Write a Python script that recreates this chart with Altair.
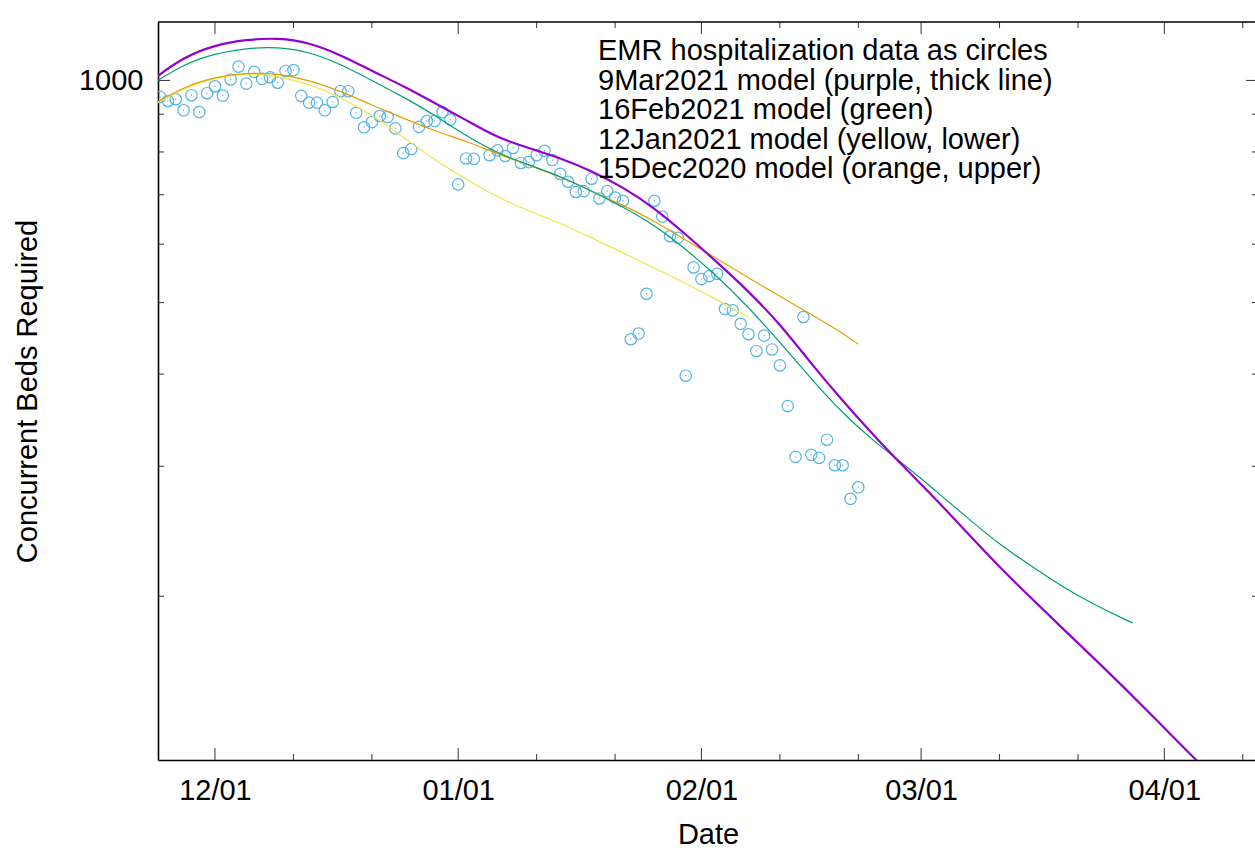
import altair as alt
import pandas as pd

ORIGIN = pd.Timestamp("2020-12-01")

# Daily EMR census of occupied beds, starting 2020-11-24 (None = no report)
obs_start = "2020-11-24"
obs_beds = [
    950, 938, 943, 911, 955, 906, 961, 982, 954, 1003,
    1044, 990, 1027, 1005, 1010, 993, 1030, 1033, 953, 933,
    933, 911, 935, 967, 967, 904, 864, 878, 895, 892,
    861, 797, 807, 865, 881, 881, 906, 885, 723, 784,
    783, None, 792, 804, 790, 810, 773, 775, 792, 803,
    780, 747, 729, 706, 708, 736, 692, 708, 694, 687,
    446, 454, 514, 687, 654, 615, 612, 398, 558, 538,
    543, 547, 490, 488, 468, 453, 430, 451, 432, 411,
    362, 309, 478, 311, 308, 326, 301, 301, 271, 281,
]

# Model projections, sampled every four days from 2020-11-23
model_start = "2020-11-23"
mar09_beds = [1001, 1076, 1117, 1136, 1142, 1126, 1083, 1030, 983, 932,
              884, 836, 810, 785, 754, 717, 672, 619, 567, 518,
              468, 413, 368, 330, 298, 270, 243, 219, 199, 181,
              165, 150, 136, 123, 112]
feb16_beds = [989, 1052, 1088, 1106, 1110, 1094, 1052, 1000, 950, 898,
              841, 797, 768, 742, 708, 674, 637, 591, 543, 493,
              442, 394, 354, 324, 301, 277, 255, 235, 220, 206,
              195, 186]
feb16_last = ("2021-03-28", 184)
jan12_beds = [923, 977, 1008, 1024, 1014, 989, 950, 898, 838, 780,
              735, 695, 665, 641, 612, 584, 557, 531, 504, 478]
dec15_beds = [926, 980, 1011, 1024, 1022, 1001, 967, 926, 889, 854,
              828, 795, 768, 740, 708, 678, 645, 608, 573, 540,
              510, 482, 455]
dec15_last = ("2021-02-21", 439)

# Axis ticks
major_tick_dates = ["2020-12-01", "2021-01-01", "2021-02-01", "2021-03-01", "2021-04-01"]
minor_tick_dates = ["2020-12-11", "2020-12-21", "2021-01-11", "2021-01-21",
                    "2021-02-11", "2021-02-21", "2021-03-11", "2021-03-21", "2021-04-11"]
y_major_ticks = [1000]
y_minor_ticks = [200, 300, 400, 500, 600, 700, 800, 900]

key_lines = [
    "EMR hospitalization data as circles",
    "9Mar2021 model (purple, thick line)",
    "16Feb2021 model (green)",
    "12Jan2021 model (yellow, lower)",
    "15Dec2020 model (orange, upper)",
]

FONT = "Liberation Sans"
W, H = 1097, 738
FRAME_W = 1100  # the frame's right edge sits just past the visible page


def to_day(dates):
    return [(pd.Timestamp(d) - ORIGIN).days for d in dates]


def model_frame(values, last=None):
    dates = list(pd.date_range(model_start, periods=len(values), freq="4D"))
    vals = list(values)
    if last is not None:
        dates.append(pd.Timestamp(last[0]))
        vals.append(last[1])
    return pd.DataFrame({"day": to_day(dates), "beds": vals})


obs_dates = pd.date_range(obs_start, periods=len(obs_beds), freq="D")
obs = pd.DataFrame({"day": to_day(obs_dates), "beds": obs_beds}).dropna()

major_days = to_day(major_tick_dates)
major_text = [pd.Timestamp(d).strftime("%m/%d") for d in major_tick_dates]
minor_days = to_day(minor_tick_dates)

label_expr = "''"
for d, t in reversed(list(zip(major_days, major_text))):
    label_expr = f"datum.value == {d} ? '{t}' : {label_expr}"

x_scale = alt.Scale(domain=[-7.26, -7.26 + W / 7.846], nice=False, zero=False)
y_scale = alt.Scale(type="log", domain=[120, 1200], nice=False)

X = alt.X(
    "day:Q", scale=x_scale,
    axis=alt.Axis(
        values=major_days, labelExpr=label_expr, ticks=False, tickSize=0, grid=False,
        labelFont=FONT, labelFontSize=29, labelColor="black", labelPadding=39,
        labelBaseline="alphabetic", labelFlush=False, labelOverlap=False,
        domainColor="black", domainWidth=1.6,
        title="Date", titleFont=FONT, titleFontSize=29, titleFontWeight="normal",
        titleColor="black", titleX=550, titleY=83, titleBaseline="alphabetic",
        titleAlign="center",
    ),
)
Y = alt.Y(
    "beds:Q", scale=y_scale,
    axis=alt.Axis(
        values=y_major_ticks, format="d", ticks=False, tickSize=0, grid=False,
        labelFont=FONT, labelFontSize=29, labelColor="black", labelPadding=15,
        domainColor="black", domainWidth=1.6,
        title="Concurrent Beds Required", titleFont=FONT, titleFontSize=29,
        titleFontWeight="normal", titleColor="black", titleAngle=270,
        titleX=-121.5, titleY=H / 2, titleBaseline="alphabetic", titleAlign="center",
    ),
)

tick_color = "#333333"


def x_ticks(days, length):
    df = pd.DataFrame({"day": days})
    bottom = alt.Chart(df).mark_rule(color=tick_color, strokeWidth=1).encode(
        x=X, y=alt.value(H), y2=alt.value(H - length))
    top = alt.Chart(df).mark_rule(color=tick_color, strokeWidth=1).encode(
        x=X, y=alt.value(0), y2=alt.value(length))
    return [bottom, top]


def y_ticks(vals, length):
    df = pd.DataFrame({"beds": vals})
    left = alt.Chart(df).mark_rule(color=tick_color, strokeWidth=1).encode(
        y=Y, x=alt.value(0), x2=alt.value(length))
    right = alt.Chart(df).mark_rule(color=tick_color, strokeWidth=1).encode(
        y=Y, x=alt.value(FRAME_W - length), x2=alt.value(W))
    return [left, right]


top_border = alt.Chart(alt.Data(values=[{}])).mark_rule(
    color="black", strokeWidth=1.6).encode(
    x=alt.value(0), x2=alt.value(W), y=alt.value(0))

circles = alt.Chart(obs).mark_point(
    shape="circle", filled=False, size=130, color="#56b4e9",
    strokeWidth=1.2, opacity=1, clip=True).encode(x=X, y=Y)
dots = alt.Chart(obs).mark_circle(
    size=2, color="#56b4e9", opacity=1, clip=True).encode(x=X, y=Y)


def model_line(df, color, width):
    return alt.Chart(df).mark_line(
        color=color, strokeWidth=width, interpolate="basis", clip=True
    ).encode(x=X, y=Y)


yellow = model_line(model_frame(jan12_beds), "#f0e442", 1.2)
orange = model_line(model_frame(dec15_beds, dec15_last), "#e69f00", 1.2)
green = model_line(model_frame(feb16_beds, feb16_last), "#009e73", 1.2)
purple = model_line(model_frame(mar09_beds), "#9400d3", 2.2)

key = alt.Chart(pd.DataFrame({"label": ["\n".join(key_lines)]})).mark_text(
    align="left", baseline="alphabetic", font=FONT, fontSize=29,
    lineBreak="\n", lineHeight=29.5, color="black").encode(
    x=alt.value(440), y=alt.value(38), text="label:N")

layers = (
    x_ticks(major_days, 12) + x_ticks(minor_days, 6)
    + y_ticks(y_major_ticks, 12) + y_ticks(y_minor_ticks, 6)
    + [top_border, circles, dots, yellow, orange, green, purple, key]
)

chart = alt.layer(*layers).properties(
    width=W, height=H, autosize="none",
    padding={"left": 158, "top": 22, "right": 0, "bottom": 91},
).configure(font=FONT).configure_view(stroke=None)

chart.save("out.html", embed_options={"renderer": "svg", "actions": False})
